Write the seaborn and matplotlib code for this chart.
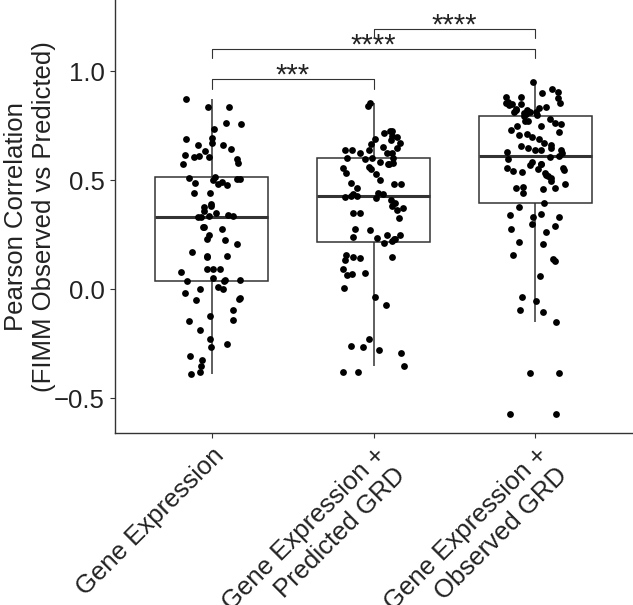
import numpy as np
import pandas as pd
import matplotlib
matplotlib.use("Agg")
import matplotlib.pyplot as plt
import seaborn as sns

categories = ["Gene Expression",
              "Gene Expression +\nPredicted GRD",
              "Gene Expression +\nObserved GRD"]

gene_expression = [
    0.870, 0.836, 0.836, 0.760, 0.755, 0.734, 0.691, 0.687, 0.661, 0.668,
    0.661, 0.642, 0.635, 0.615, 0.610, 0.599, 0.604, 0.607, 0.580, 0.573,
    0.480, 0.503, 0.485, 0.512, 0.503, 0.508, 0.500, 0.477, 0.492, 0.442,
    0.442, 0.381, 0.378, 0.390, 0.358, 0.335, 0.338, 0.329, 0.347, 0.330,
    0.336, 0.283, 0.275, 0.286, 0.246, 0.225, 0.228, 0.205, 0.168, 0.154,
    0.154, 0.148, 0.092, 0.090, 0.090, 0.080, 0.038, 0.041, 0.049, 0.038,
    0.040, 0.000, -0.020, 0.000, 0.011, -0.050, -0.043, -0.046, -0.096, -0.122,
    -0.142, -0.147, -0.188, -0.231, -0.254, -0.265, -0.307, -0.323, -0.353, -0.379,
    -0.391,
]

predicted_grd = [
    0.841, 0.852, 0.725, 0.702, 0.688, 0.665, 0.683, 0.699, 0.714, 0.725,
    0.668, 0.638, 0.645, 0.622, 0.603, 0.625, 0.622, 0.638, 0.650, 0.600,
    0.595, 0.602, 0.638, 0.584, 0.576, 0.580, 0.576, 0.557, 0.558, 0.549,
    0.531, 0.528, 0.500, 0.482, 0.482, 0.485, 0.462, 0.434, 0.427, 0.427,
    0.439, 0.436, 0.408, 0.396, 0.424, 0.416, 0.381, 0.370, 0.347, 0.347,
    0.365, 0.324, 0.275, 0.271, 0.248, 0.228, 0.240, 0.213, 0.220, 0.235,
    0.148, 0.133, 0.144, 0.148, 0.156, 0.090, 0.075, 0.064, 0.067, 0.003,
    -0.035, -0.073, -0.231, -0.261, -0.265, -0.280, -0.292, -0.352, -0.379, -0.379,
    0.230, 0.250,
]

observed_grd = [
    0.951, 0.920, 0.905, 0.898, 0.875, 0.882, 0.879, 0.847, 0.847, 0.852,
    0.852, 0.836, 0.844, 0.821, 0.813, 0.821, 0.813, 0.798, 0.806, 0.778,
    0.813, 0.824, 0.803, 0.772, 0.748, 0.757, 0.763, 0.729, 0.711, 0.706,
    0.699, 0.656, 0.638, 0.638, 0.645, 0.671, 0.638, 0.645, 0.599, 0.604,
    0.622, 0.573, 0.538, 0.523, 0.518, 0.534, 0.543, 0.546, 0.554, 0.569,
    0.573, 0.554, 0.482, 0.462, 0.457, 0.497, 0.466, 0.443, 0.378, 0.344,
    0.339, 0.332, 0.329, 0.298, 0.274, 0.263, 0.291, 0.209, 0.217, 0.138,
    0.156, 0.127, 0.060, -0.038, -0.054, -0.107, -0.096, -0.153, -0.387, -0.387,
    -0.573, -0.573,
    0.395, 0.470, 0.510, 0.550, 0.585, 0.612, 0.860, 0.830, 0.794, 0.630,
    0.660, 0.690, 0.720, 0.750, 0.770,
]

comparisons = [(0, 1, "***"), (0, 2, "****"), (1, 2, "****")]
bracket_levels = [0.963, 1.101, 1.193]

sns.set_theme(style="white")
plt.rcParams['font.family'] = ['Liberation Sans', 'DejaVu Sans']

df = pd.DataFrame({
    "group": ([categories[0]] * len(gene_expression)
              + [categories[1]] * len(predicted_grd)
              + [categories[2]] * len(observed_grd)),
    "value": gene_expression + predicted_grd + observed_grd,
})

fig = plt.figure(figsize=(6.33, 6.05), dpi=100)
ax = fig.add_axes([115 / 633, 1 - 433 / 605, (632 - 115) / 633, 433 / 605])

dark = "#333333"
sns.boxplot(data=df, x="group", y="value", order=categories, width=0.7,
            showfliers=False, showcaps=False, color="white", linecolor=dark,
            linewidth=1.1, medianprops=dict(linewidth=2.2, color=dark), ax=ax)
np.random.seed(7)
sns.stripplot(data=df, x="group", y="value", order=categories, jitter=0.19,
              color="black", size=4.9, linewidth=0, ax=ax, zorder=3)

tick = 0.043
for (i, j, lab), y in zip(comparisons, bracket_levels):
    ax.plot([i, i, j, j], [y - tick, y, y, y - tick], color=dark, lw=0.8,
            clip_on=False, zorder=4)
    ax.text((i + j) / 2, y - 0.02, lab, ha="center", va="baseline",
            fontsize=21, color="#222222", clip_on=False)

ax.set_xlim(-0.6, 2.6)
ax.set_ylim(-0.66, 1.326)
ax.set_yticks([-0.5, 0.0, 0.5, 1.0])
ax.set_yticklabels(["\u22120.5", "0.0", "0.5", "1.0"])
ax.set_xticks([0, 1, 2])
ax.set_xticklabels(categories, rotation=45, ha="right", va="top",
                   rotation_mode="anchor")
ax.set_xlabel("")
ax.set_ylabel("Pearson Correlation\n(FIMM Observed vs Predicted)",
              fontsize=18.5, color="#222222", labelpad=-1.5)
ax.tick_params(axis="both", which="both", direction="out", length=3.8,
               width=0.8, color=dark, labelsize=18.5, labelcolor="#222222",
               left=True, bottom=True)
sns.despine(ax=ax)
for s in ("left", "bottom"):
    ax.spines[s].set_color(dark)
    ax.spines[s].set_linewidth(1.0)

fig.savefig("out.png", dpi=100)
